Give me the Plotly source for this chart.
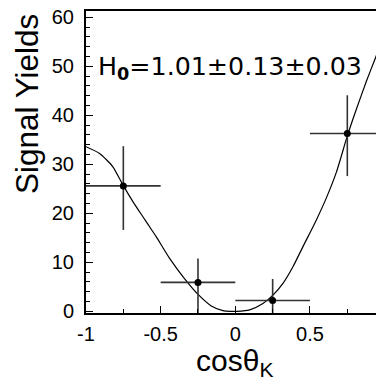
import plotly.graph_objects as go

# measured data points
bin_centers = [-0.75, -0.25, 0.25, 0.75]
yields = [25.6, 5.9, 2.2, 36.3]
err_plus = [8.1, 4.9, 4.4, 7.8]
err_minus = [9.0, 7.0, 4.4, 8.7]
bin_half_width = [0.25, 0.25, 0.25, 0.25]

# fitted curve
curve_x = [-1.0, -0.909, -0.82, -0.753, -0.686, -0.619, -0.56, -0.529, -0.44, -0.351,
           -0.251, -0.161, -0.083, -0.03, 0.01, 0.096, 0.185, 0.252, 0.319, 0.386,
           0.453, 0.542, 0.609, 0.677, 0.75, 0.81, 0.877, 0.933, 0.985]
curve_y = [33.6, 32.2, 29.5, 25.8, 22.4, 19.3, 16.6, 15.2, 10.8, 7.1,
           3.5, 1.1, 0.15, 0.0, 0.0, 0.3, 1.6, 3.3, 5.7, 9.1,
           13.2, 18.6, 23.1, 28.4, 35.8, 41.2, 46.9, 51.3, 55.4]

x_tickvals = [-1, -0.5, 0, 0.5]
x_ticktext = ["-1", "-0.5", "0", "0.5"]
y_tickvals = [0, 10, 20, 30, 40, 50, 60]

fig = go.Figure()
fig.add_trace(go.Scatter(
    x=curve_x, y=curve_y, mode="lines",
    line=dict(color="black", width=1.2, shape="spline", smoothing=0.6),
    showlegend=False, hoverinfo="skip"))
fig.add_trace(go.Scatter(
    x=bin_centers, y=yields, mode="markers",
    marker=dict(color="black", size=7),
    error_x=dict(type="data", array=bin_half_width, width=0, color="#333", thickness=1.6),
    error_y=dict(type="data", array=err_plus, arrayminus=err_minus, symmetric=False,
                 width=0, color="#333", thickness=1.6),
    showlegend=False))

FONT = "Liberation Sans, Arial, sans-serif"
# page body has an 8px margin, so the figure is sized to fill the rest of the window
fig.update_layout(
    width=376, height=373,
    margin=dict(l=78, r=1, t=3, b=68, autoexpand=False),
    paper_bgcolor="white", plot_bgcolor="white",
    font=dict(family=FONT, color="black"),
    xaxis=dict(range=[-1, 0.989], tickvals=x_tickvals, ticktext=x_ticktext,
               ticks="inside", ticklen=7, tickwidth=1, tickcolor="black",
               minor=dict(tickvals=[-0.75, -0.25, 0.25, 0.75], ticks="inside", ticklen=4, tickcolor="black"),
               showline=True, linecolor="black", linewidth=2, mirror=True,
               showgrid=False, zeroline=False, automargin=False,
               ticklabeloverflow="allow",
               tickfont=dict(size=20, family=FONT), ticklabelstandoff=2),
    yaxis=dict(range=[-0.35, 61.3], tickvals=y_tickvals,
               ticks="inside", ticklen=7, tickwidth=1, tickcolor="black",
               minor=dict(dtick=2, ticks="inside", ticklen=4, tickcolor="black"),
               showline=True, linecolor="black", linewidth=2,
               showgrid=False, zeroline=False, automargin=False,
               ticklabeloverflow="allow",
               tickfont=dict(size=20, family=FONT), ticklabelstandoff=6),
    shapes=[dict(type="line", xref="paper", yref="paper", x0=1, x1=1, y0=0, y1=1,
                 line=dict(color="#d8d8d8", width=1.5))],
    annotations=[
        dict(text="H<sub><b>0</b></sub>=1.01±0.13±0.03", xref="paper", yref="paper",
             x=0.035, y=0.81, xanchor="left", yanchor="middle", showarrow=False,
             font=dict(size=25.3, family="DejaVu Sans")),
        dict(text="Signal Yields", xref="paper", yref="paper", x=-0.2, y=0.995,
             xanchor="center", yanchor="top", textangle=-90, showarrow=False,
             font=dict(size=31.5, family=FONT)),
        dict(text="cosθ<sub>K</sub>", xref="paper", yref="paper", x=0.5, y=-0.095,
             xanchor="center", yanchor="top", showarrow=False,
             font=dict(size=30, family=FONT)),
        dict(text="1", xref="paper", yref="paper", x=1.0101, y=-0.025,
             xanchor="center", yanchor="top", showarrow=False,
             font=dict(size=20, family=FONT)),
    ],
)
fig.write_html("out.html")
